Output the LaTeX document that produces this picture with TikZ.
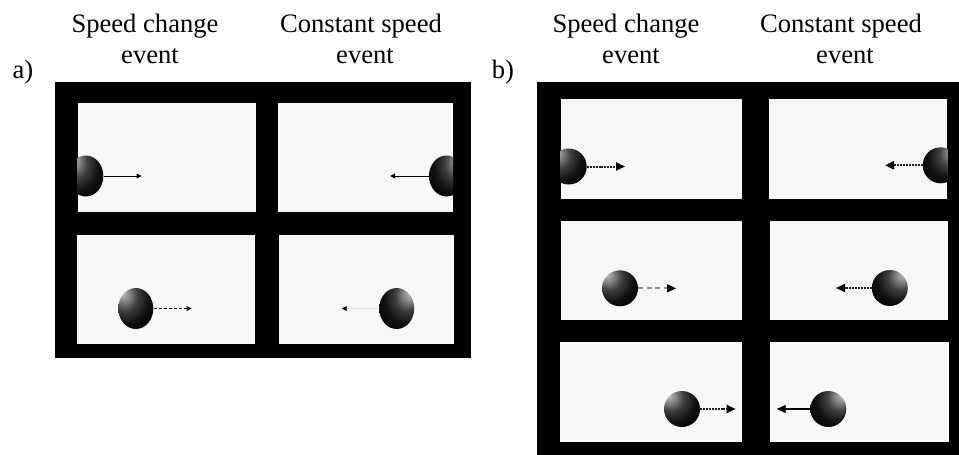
\documentclass[tikz,border=0pt]{standalone}
\usepackage{fontspec}
\setmainfont{Liberation Serif}
\usetikzlibrary{arrows.meta,shapes.geometric}

% sphere shadings: highlight on the upper left or the upper right
\pgfdeclareradialshading{sphereL}{\pgfpoint{-20bp}{20bp}}{%
  color(0bp)=(black!22); color(8bp)=(black!45); color(18bp)=(black!75);
  color(30bp)=(black!93); color(42bp)=(black); color(80bp)=(black)}
\pgfdeclareradialshading{sphereR}{\pgfpoint{20bp}{20bp}}{%
  color(0bp)=(black!22); color(8bp)=(black!45); color(18bp)=(black!75);
  color(30bp)=(black!93); color(42bp)=(black); color(80bp)=(black)}

\begin{document}
\begin{tikzpicture}[x=1pt,y=-1pt,
  head/.style={font=\fontsize{26.6}{30}\selectfont, anchor=base, inner sep=0pt},
  panel/.style={fill=white!97!black},
  eball/.style={ellipse, inner sep=0pt, minimum width=35pt, minimum height=41pt, shade},
  cball/.style={circle, inner sep=0pt, minimum size=36pt, shade},
  smalltip/.style={-{Triangle[length=5pt,width=4.5pt,color=black]}},
  bigtip/.style={-{Triangle[length=9pt,width=8pt,color=black]}},
  thinline/.style={smalltip, line width=0.9pt},
  thindash/.style={smalltip, line width=0.9pt, dash pattern=on 3pt off 2pt},
  faintline/.style={smalltip, line width=0.9pt, draw=black!12},
  dotline/.style={bigtip, line width=2pt, draw=black!88, dash pattern=on 2pt off 0.9pt},
  greydash/.style={bigtip, line width=1.8pt, draw=black!45, dash pattern=on 5pt off 3.5pt},
  solidline/.style={bigtip, line width=1.1pt}
]
\useasboundingbox (0,0) rectangle (959,455);

% ---------- headings ----------
\node[head] (ta1) at (145,32.7) {Speed change};
\node[head] (ta2) at (150,63.3) {event};
\node[head] (tb1) at (361,32.7) {Constant speed};
\node[head] (tb2) at (365,63.3) {event};
\node[head] (la)  at (23,78)   {a)};

\node[head] (tc1) at (626,32.7) {Speed change};
\node[head] (tc2) at (631,63.3) {event};
\node[head] (td1) at (841,32.7) {Constant speed};
\node[head] (td2) at (845,63.3) {event};
\node[head] (lb)  at (503,78)   {b)};

% ---------- panel a: 2 x 2 ----------
\fill[black] (55,82) rectangle (471,358);
\path[panel] (77.7,102.7) rectangle (255.7,211.7);
\path[panel] (278,102.7) rectangle (453,211.7);
\path[panel] (77,235) rectangle (255,344);
\path[panel] (279,235) rectangle (454,344);

\begin{scope}
  \clip (77.7,102.7) rectangle (255.7,211.7);
  \node[eball, shading=sphereL] (aTL) at (85.8,176) {};
\end{scope}
\begin{scope}
  \clip (278,102.7) rectangle (453,211.7);
  \node[eball, shading=sphereR] (aTR) at (446.5,176) {};
\end{scope}
\node[eball, shading=sphereL] (aBL) at (135.8,308.5) {};
\node[eball, shading=sphereR] (aBR) at (396.7,308.5) {};

\coordinate (aTLend) at (141.7,176);
\coordinate (aTRend) at (390,176);
\coordinate (aBLend) at (191.7,308.5);
\coordinate (aBRend) at (341.7,308.5);

\draw[thinline]  (aTL.east) -- (aTLend);
\draw[thinline]  (aTR.west) -- (aTRend);
\draw[thindash]  (aBL.east) -- (aBLend);
\draw[faintline] (aBR.west) -- (aBRend);

% ---------- panel b: 3 x 2 ----------
\fill[black] (537.3,81.7) rectangle (959,455);
\path[panel] (560.7,99.3) rectangle (742.3,199);
\path[panel] (769.3,99.3) rectangle (947.3,199);
\path[panel] (560.7,221) rectangle (742,320);
\path[panel] (770,221) rectangle (948,320);
\path[panel] (560,342.3) rectangle (742,441.7);
\path[panel] (770,342.3) rectangle (949,441.7);

\begin{scope}
  \clip (560.7,99.3) rectangle (742.3,199);
  \node[cball, shading=sphereL] (b1L) at (568.7,166.5) {};
\end{scope}
\begin{scope}
  \clip (769.3,99.3) rectangle (947.3,199);
  \node[cball, shading=sphereR] (b1R) at (940.7,165.3) {};
\end{scope}
\node[cball, shading=sphereL] (b2L) at (620,288.3) {};
\node[cball, shading=sphereR] (b2R) at (889.8,288) {};
\node[cball, shading=sphereL] (b3L) at (682,409) {};
\node[cball, shading=sphereR] (b3R) at (828.3,409) {};

\coordinate (b1Lend) at (625,166.5);
\coordinate (b1Rend) at (885,165.3);
\coordinate (b2Lend) at (676,288.3);
\coordinate (b2Rend) at (836,288);
\coordinate (b3Lend) at (735.7,409);
\coordinate (b3Rend) at (776.7,409);

\draw[dotline]   (b1L.east) -- (b1Lend);
\draw[dotline]   (b1R.west) -- (b1Rend);
\draw[greydash]  (b2L.east) -- (b2Lend);
\draw[dotline]   (b2R.west) -- (b2Rend);
\draw[dotline]   (b3L.east) -- (b3Lend);
\draw[solidline] (b3R.west) -- (b3Rend);
\end{tikzpicture}
\end{document}
